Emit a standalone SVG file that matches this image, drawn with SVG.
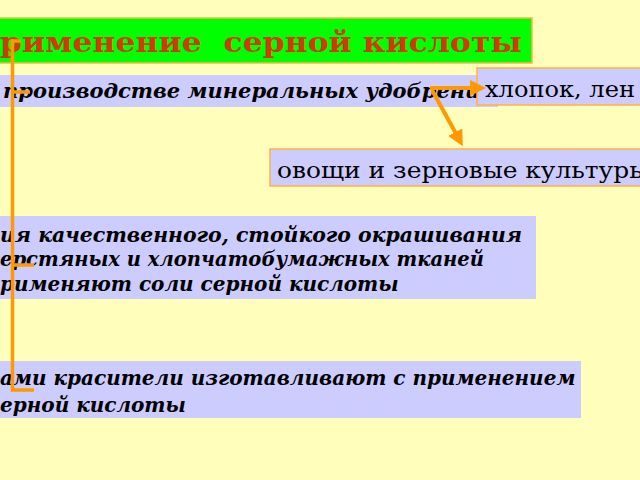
<svg xmlns="http://www.w3.org/2000/svg" width="640" height="480" viewBox="0 0 640 480">
<style>
.bar{fill:#CCCCFF}
.box{fill:#CCCCFF;stroke:#FFB347;stroke-width:1.5}
.bi{font-family:"DejaVu Serif",serif;font-weight:bold;font-style:italic;font-size:20px;fill:#000}
.reg{font-family:"DejaVu Serif",serif;font-size:22px;fill:#000}
.conn{stroke:#FF9900;stroke-width:4;fill:none}
.brk{stroke:#FF9900;stroke-width:3.5;fill:none}
</style>
<defs>
<marker id="ah" markerWidth="4" markerHeight="4" refX="2.5" refY="2" orient="auto" markerUnits="strokeWidth">
<path d="M0,0 L4,2 L0,4 Z" fill="#FF9900"/>
</marker>
</defs>
<rect width="640" height="480" fill="#FFFFBB"/>
<g id="title">
<rect x="-10" y="18" width="542" height="45" fill="#00FF00" stroke="#FFB347" stroke-width="1.5"/>
<text x="0" y="52" xml:space="preserve" textLength="522" lengthAdjust="spacingAndGlyphs" font-family="DejaVu Serif, serif" font-weight="bold" font-size="28" fill="#D03C00" style="white-space:pre">рименение  серной кислоты</text>
</g>
<g id="fertilizers">
<rect class="bar" x="-10" y="75" width="508" height="32"/>
<text class="bi" x="3" y="98" style="font-size:21px">производстве минеральных удобрений</text>
</g>
<g id="cotton">
<rect class="box" x="477" y="68" width="180" height="37"/>
<text class="reg" x="485" y="97" textLength="150" lengthAdjust="spacingAndGlyphs">хлопок, лен</text>
</g>
<g id="vegetables">
<rect class="box" x="270" y="149" width="390" height="37"/>
<text class="reg" x="277" y="178" textLength="372" lengthAdjust="spacingAndGlyphs">овощи и зерновые культуры</text>
</g>
<g id="dyeing">
<rect class="bar" x="-10" y="216" width="546" height="83"/>
<text class="bi" x="0" y="242" textLength="522" lengthAdjust="spacingAndGlyphs">ия качественного, стойкого окрашивания</text>
<text class="bi" x="0" y="266" textLength="484" lengthAdjust="spacingAndGlyphs">ерстяных и хлопчатобумажных тканей</text>
<text class="bi" x="0" y="291">рименяют соли серной кислоты</text>
</g>
<g id="dyes">
<rect class="bar" x="-10" y="361" width="591" height="57"/>
<text class="bi" x="0" y="385">ами красители изготавливают с применением</text>
<text class="bi" x="0" y="412">ерной кислоты</text>
</g>
<g id="connectors">
<path class="brk" d="M21,41 H12.5 V390 H34 M12.5,92 H30 M12.5,265 H34"/>
<line class="conn" x1="430" y1="88" x2="480" y2="88" marker-end="url(#ah)"/>
<line class="conn" x1="432" y1="90" x2="460" y2="141" marker-end="url(#ah)"/>
</g>
</svg>
